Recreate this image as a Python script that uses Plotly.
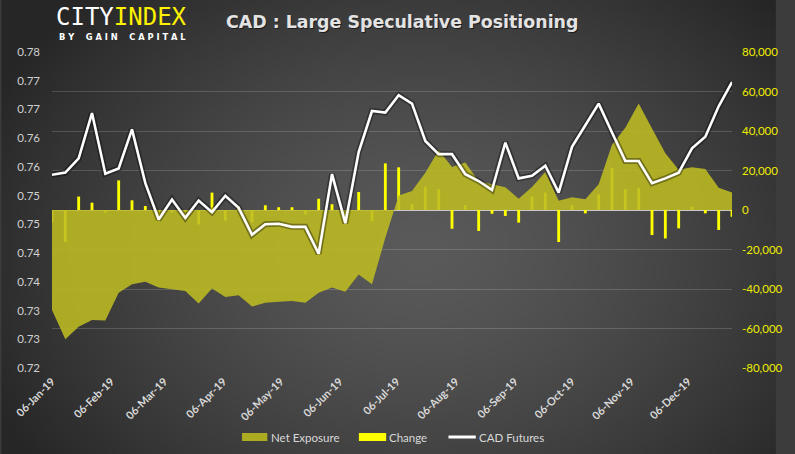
import base64
import struct
import zlib

import numpy as np
import pandas as pd
import plotly.graph_objects as go

# ---------------- data ----------------
dates = pd.date_range("2019-01-06", periods=52, freq="7D")

net_exposure = [
    -50600, -65500, -59100, -55700, -56000, -41900, -37600, -36300, -39300, -40200,
    -41000, -47300, -39800, -44100, -43200, -48900, -46900, -46400, -46100, -46900,
    -41900, -39300, -41400, -32600, -37600, -14000, 7300, 9600, 18900, 30300,
    21800, 24100, 14500, 13000, 11500, 5700, 11600, 19200, 4700, 6400,
    5500, 13000, 33000, 41700, 53900, 41300, 28700, 20400, 21600, 20800,
    11300, 8800,
]

change = [
    -6200, -16200, 6800, 3700, -1300, 15000, 4900, 2000, -2700, -1200,
    -1000, -7300, 8800, -5400, 1700, -6300, 2400, 1400, 1400, -2300,
    5700, 2900, -2700, 9100, -5700, 23600, 21600, 2900, 11800, 10500,
    -9500, 2500, -10600, -1900, -3000, -6400, 6800, 8800, -16200, 2400,
    -1700, 7900, 21300, 10500, 11000, -12700, -14400, -9300, 1700, -1700,
    -10100, -3400,
]

cad_futures = [
    0.7567, 0.7571, 0.7598, 0.7684, 0.7569, 0.7579, 0.7653, 0.7551, 0.7482, 0.7520,
    0.7485, 0.7518, 0.7496, 0.7527, 0.7504, 0.7453, 0.7473, 0.7474, 0.7468, 0.7468,
    0.7417, 0.7568, 0.7475, 0.7610, 0.7688, 0.7685, 0.7718, 0.7702, 0.7631, 0.7606,
    0.7606, 0.7568, 0.7555, 0.7538, 0.7628, 0.7560, 0.7565, 0.7584, 0.7533, 0.7620,
    0.7661, 0.7702, 0.7647, 0.7593, 0.7593, 0.7551, 0.7560, 0.7571, 0.7617, 0.7639,
    0.7697, 0.7743,
]

left_tick_values = list(np.linspace(0.72, 0.78, 12))
right_tick_values = [-80000, -60000, -40000, -20000, 0, 20000, 40000, 60000, 80000]
right_tick_labels = ["-80,000", "-60,000", "-40,000", "-20,000", "0",
                     "20,000", "40,000", "60,000", "80,000"]
month_ticks = [pd.Timestamp(2019, m, 6) for m in range(1, 13)]
month_labels = [d.strftime("%d-%b-%y") for d in month_ticks]

title_text = "CAD : Large Speculative Positioning"
legend_labels = ["Net Exposure", "Change", "CAD Futures"]

# ---------------- geometry helpers (figure pixels -> paper) ----------------
W, H = 795, 454
L, R, T, B = 52, 45, 52, 86
PW, PH = W - L - R, H - T - B


def px(x):
    return (x - L) / PW


def py(y):
    return (H - B - y) / PH


# ---------------- background gradient as inline PNG ----------------
def gradient_png(w=265, h=152):
    yy, xx = np.mgrid[0:h, 0:w].astype(float)
    cx, cy = 0.54 * w, 0.55 * h
    d = np.sqrt(((xx - cx) / (0.62 * w)) ** 2 + ((yy - cy) / (0.80 * h)) ** 2)
    d = np.clip(d, 0, 1.0)
    val = 90 - (90 - 38) * d ** 1.4
    arr = np.clip(np.stack([val, val, val], axis=-1), 0, 255).astype(np.uint8)
    raw = b"".join(b"\x00" + arr[r].tobytes() for r in range(h))

    def chunk(tag, data):
        return (struct.pack(">I", len(data)) + tag + data
                + struct.pack(">I", zlib.crc32(tag + data) & 0xFFFFFFFF))

    png = (b"\x89PNG\r\n\x1a\n"
           + chunk(b"IHDR", struct.pack(">IIBBBBB", w, h, 8, 2, 0, 0, 0))
           + chunk(b"IDAT", zlib.compress(raw, 9))
           + chunk(b"IEND", b""))
    return "data:image/png;base64," + base64.b64encode(png).decode()


AREA_COLOR = "rgba(190,188,34,0.88)"
BAR_COLOR = "#FFFF00"
TICK_FONT = "Lato"

fig = go.Figure()

fig.add_trace(go.Scatter(
    x=dates, y=net_exposure, name="Net Exposure", mode="lines",
    fill="tozeroy", fillcolor=AREA_COLOR, line=dict(width=0, color=AREA_COLOR),
    yaxis="y", showlegend=False,
))
fig.add_trace(go.Bar(
    x=dates, y=change, name="Change", marker=dict(color=BAR_COLOR, line=dict(width=0)),
    width=1.5 * 86400000, yaxis="y", showlegend=False,
))
fig.add_trace(go.Scatter(
    x=dates, y=cad_futures, mode="lines", line=dict(color="rgba(0,0,0,0.35)", width=6),
    yaxis="y2", showlegend=False, hoverinfo="skip",
))
fig.add_trace(go.Scatter(
    x=dates, y=cad_futures, name="CAD Futures", mode="lines",
    line=dict(color="#FFFFFF", width=2.6), yaxis="y2", showlegend=False,
))

annotations = [
    dict(text=title_text, x=px(412.5), y=py(23.5), xref="paper", yref="paper",
         showarrow=False, xanchor="center", yanchor="middle", borderpad=0,
         font=dict(family="DejaVu Sans", size=17.4, color="rgba(0,0,0,0.55)", weight="bold")),
    dict(text=title_text, x=px(411.5), y=py(22), xref="paper", yref="paper",
         showarrow=False, xanchor="center", yanchor="middle", borderpad=0,
         font=dict(family="DejaVu Sans", size=17.4, color="#E3E3E3", weight="bold")),
    dict(text="<span style='color:#FFFFFF'>CITY</span><span style='color:#FFF200'>INDEX</span>",
         x=px(55), y=py(17), xref="paper", yref="paper", showarrow=False,
         xanchor="left", yanchor="middle", borderpad=0,
         font=dict(family="DejaVu Sans Mono", size=24, color="#FFFFFF")),
    dict(text="B\u00a0Y\u00a0\u00a0\u00a0 G\u00a0A\u00a0I\u00a0N\u00a0\u00a0\u00a0 C\u00a0A\u00a0P\u00a0I\u00a0T\u00a0A\u00a0L",
         x=px(58), y=py(37.5), xref="paper", yref="paper", showarrow=False,
         xanchor="left", yanchor="middle", borderpad=0,
         font=dict(family="DejaVu Sans", size=8.3, color="#FFFFFF", weight="bold")),
]

legend_x_text = [276, 397, 489]
for lbl, xt in zip(legend_labels, legend_x_text):
    annotations.append(dict(
        text=lbl, x=px(xt), y=py(437), xref="paper", yref="paper", showarrow=False,
        xanchor="left", yanchor="middle", borderpad=0,
        font=dict(family=TICK_FONT, size=11.5, color="#D9D9D9")))

shapes = [
    dict(type="rect", xref="paper", yref="paper", x0=px(247), x1=px(273), y0=py(441), y1=py(433),
         fillcolor="#ADAB22", line=dict(width=0)),
    dict(type="rect", xref="paper", yref="paper", x0=px(367), x1=px(395), y0=py(441), y1=py(433),
         fillcolor=BAR_COLOR, line=dict(width=0)),
    dict(type="line", xref="paper", yref="paper", x0=px(459), x1=px(487), y0=py(437), y1=py(437),
         line=dict(color="#FFFFFF", width=3)),
]

fig.update_layout(
    width=W, height=H, autosize=False,
    margin=dict(l=L, r=R, t=T, b=B, pad=0),
    paper_bgcolor="#3C3C3C", plot_bgcolor="rgba(0,0,0,0)",
    barmode="overlay",
    showlegend=False,
    images=[dict(source=gradient_png(), xref="paper", yref="paper",
                 x=px(0), y=py(0), sizex=W / PW, sizey=H / PH,
                 xanchor="left", yanchor="top", sizing="stretch", layer="below")],
    xaxis=dict(
        type="date", range=[dates[0], dates[-1]],
        tickmode="array", tickvals=month_ticks, ticktext=month_labels,
        tickangle=-45, showgrid=False, zeroline=False, showline=False, ticks="",
        ticklabelstandoff=4,
        tickfont=dict(family=TICK_FONT, size=11, color="#D9D9D9", weight="bold"),
    ),
    yaxis=dict(
        side="right", range=[-80000, 80000],
        tickmode="array", tickvals=right_tick_values, ticktext=right_tick_labels,
        showgrid=True, gridcolor="rgba(255,255,255,0.16)", gridwidth=1,
        zeroline=True, zerolinecolor="#C8C8C8", zerolinewidth=1.3,
        showline=False, ticks="", ticklabelstandoff=9,
        tickfont=dict(family=TICK_FONT, size=11.5, color="#EDED00"),
    ),
    yaxis2=dict(
        side="left", overlaying="y", range=[0.72, 0.78],
        tickmode="array", tickvals=left_tick_values, tickformat=".2f",
        showgrid=False, zeroline=False, showline=False, ticks="", ticklabelstandoff=11,
        tickfont=dict(family=TICK_FONT, size=11.5, color="#D0D0D0"),
    ),
    annotations=annotations,
    shapes=shapes,
)

post_js = """
document.documentElement.style.overflow='hidden';
document.documentElement.style.margin='0';
document.body.style.overflow='hidden';
document.body.style.margin='0';
document.body.style.background='#333333';
(function(){
  var gd=document.getElementById('{plot_id}');
  var tries=0;
  function fix(){
    if(tries>30) return;
    var fl=gd._fullLayout;
    if(fl && (fl.width!==795 || fl.height!==454)){
      tries++;
      gd.style.width='795px'; gd.style.height='454px';
      Plotly.relayout(gd,{autosize:false,width:795,height:454});
    }
  }
  gd.on('plotly_relayout', function(){ setTimeout(fix, 0); });
  gd.on('plotly_afterplot', function(){ setTimeout(fix, 0); });
  window.addEventListener('resize', function(){ setTimeout(fix, 30); });
  setInterval(fix, 50);
  fix();
})();
"""

fig.write_html(
    "out.html",
    config={"displayModeBar": False, "responsive": False},
    post_script=post_js,
)
